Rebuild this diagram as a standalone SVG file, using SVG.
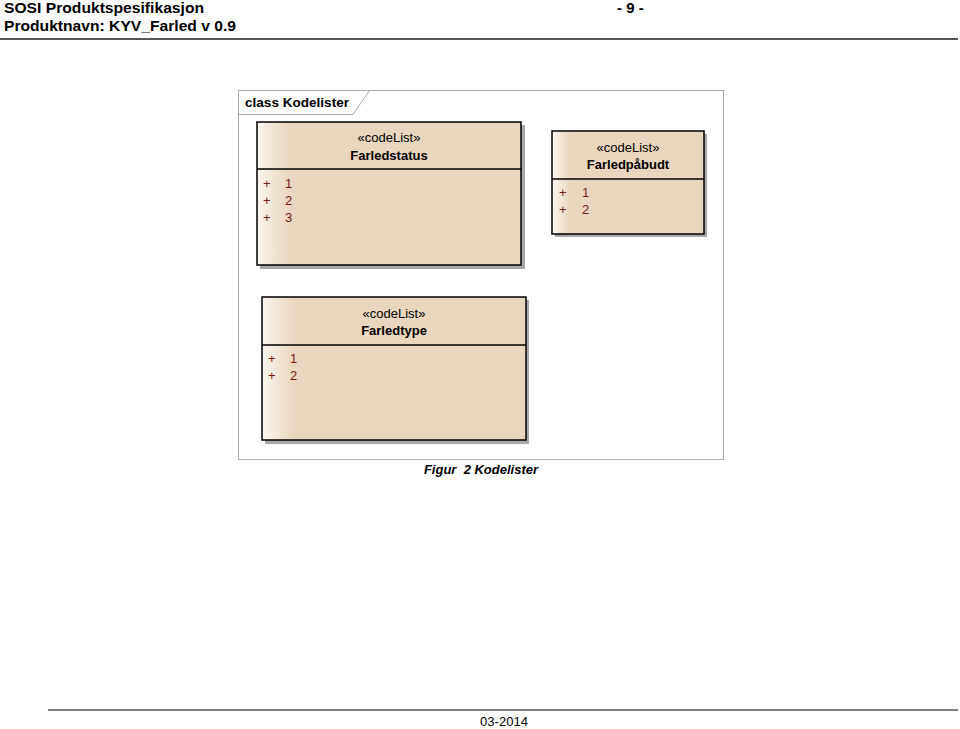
<svg xmlns="http://www.w3.org/2000/svg" width="960" height="729" viewBox="0 0 960 729">
<style>
.hdr{font-family:"Liberation Sans",Arial,sans-serif;font-weight:bold;font-size:15px;fill:#000}
.lbl{font-family:"Liberation Sans",Arial,sans-serif;font-size:13px;fill:#000}
.st{font-family:"Liberation Sans",Arial,sans-serif;font-size:13px;fill:#000;text-anchor:middle}
.nm{font-family:"Liberation Sans",Arial,sans-serif;font-size:13px;font-weight:bold;fill:#000;text-anchor:middle}
.att{font-family:"Liberation Sans",Arial,sans-serif;font-size:13px;fill:#7a1a1a}
.box{fill:url(#g);stroke:#000;stroke-width:1.5}
.shd{fill:#a8a8a8}
.div{stroke:#000;stroke-width:1.5}
</style>
<defs>
<linearGradient id="g" x1="0" y1="0" x2="1" y2="0">
<stop offset="0" stop-color="#fbf6ef"/>
<stop offset="0.12" stop-color="#e8d6bf"/>
<stop offset="1" stop-color="#e8d6bf"/>
</linearGradient>
</defs>
<rect width="960" height="729" fill="#fff"/>
<g id="header">
<text class="hdr" x="4" y="13" textLength="200" lengthAdjust="spacingAndGlyphs">SOSI Produktspesifikasjon</text>
<text class="hdr" x="4" y="31" textLength="232" lengthAdjust="spacingAndGlyphs">Produktnavn: KYV_Farled v 0.9</text>
<text class="hdr" x="617" y="13">- 9 -</text>
<line x1="0" y1="39" x2="958" y2="39" stroke="#555" stroke-width="2"/>
</g>
<g id="frame">
<rect x="238.5" y="90.5" width="485" height="369" fill="none" stroke="#aaa" stroke-width="1"/>
<path d="M238.5 114.5 H353 L369.5 90.5" fill="none" stroke="#aaa" stroke-width="1"/>
<text class="lbl" x="245" y="107" font-weight="bold" textLength="104" lengthAdjust="spacingAndGlyphs">class Kodelister</text>
</g>
<g id="Farledstatus">
<rect class="shd" x="260" y="125" width="265" height="144"/>
<rect class="box" x="257" y="122" width="264" height="143"/>
<line class="div" x1="257" y1="169" x2="521" y2="169"/>
<text class="st" x="389" y="142">«codeList»</text>
<text class="nm" x="389" y="160">Farledstatus</text>
<text class="att" x="263" y="188">+</text><text class="att" x="285" y="188">1</text>
<text class="att" x="263" y="205">+</text><text class="att" x="285" y="205">2</text>
<text class="att" x="263" y="222">+</text><text class="att" x="285" y="222">3</text>
</g>
<g id="Farledpabudt">
<rect class="shd" x="555" y="134" width="152" height="103"/>
<rect class="box" x="552" y="131" width="152" height="103"/>
<line class="div" x1="552" y1="179" x2="704" y2="179"/>
<text class="st" x="628" y="152">«codeList»</text>
<text class="nm" x="628" y="169">Farledpåbudt</text>
<text class="att" x="559" y="197">+</text><text class="att" x="582" y="197">1</text>
<text class="att" x="559" y="214">+</text><text class="att" x="582" y="214">2</text>
</g>
<g id="Farledtype">
<rect class="shd" x="265" y="300" width="264" height="144"/>
<rect class="box" x="262" y="297" width="264" height="143"/>
<line class="div" x1="262" y1="345" x2="526" y2="345"/>
<text class="st" x="394" y="318">«codeList»</text>
<text class="nm" x="394" y="335">Farledtype</text>
<text class="att" x="268" y="363">+</text><text class="att" x="290" y="363">1</text>
<text class="att" x="268" y="380">+</text><text class="att" x="290" y="380">2</text>
</g>
<g id="connectors"></g>
<g id="footer">
<text x="481" y="474" font-family="Liberation Sans, Arial, sans-serif" font-size="13" font-weight="bold" font-style="italic" text-anchor="middle" xml:space="preserve">Figur  2 Kodelister</text>
<line x1="48" y1="710" x2="958" y2="710" stroke="#555" stroke-width="1.5"/>
<text x="504" y="726" font-family="Liberation Sans, Arial, sans-serif" font-size="13" text-anchor="middle" textLength="48" lengthAdjust="spacingAndGlyphs">03-2014</text>
</g>
</svg>
